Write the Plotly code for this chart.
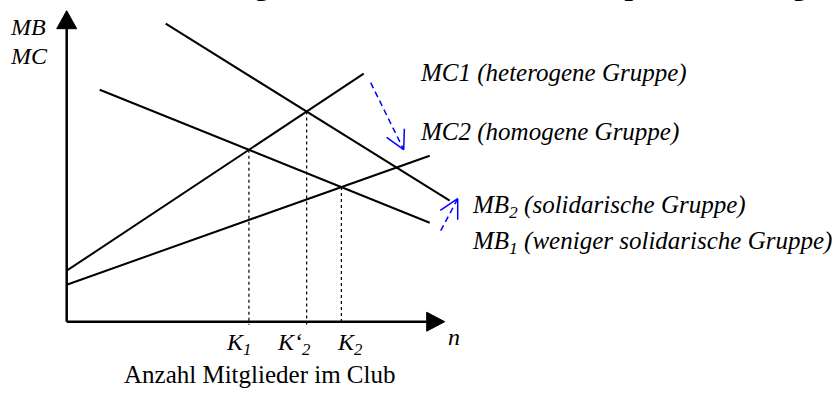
import numpy as np
import plotly.graph_objects as go

# Kurven (Endpunkte, n / Nutzen-Kosten-Einheiten, Ursprung = Achsenkreuz)
mb2_n = [99, 383]
mb2_v = [298, 121]
mb1_n = [33, 363]
mb1_v = [232, 99]
mc1_n = [0, 297]
mc1_v = [51, 248]
mc2_n = [0, 363]
mc2_v = [37, 166]

curve_labels = ["MC1 (heterogene Gruppe)", "MC2 (homogene Gruppe)",
                "MB<sub>2</sub> (solidarische Gruppe)", "MB<sub>1</sub> (weniger solidarische Gruppe)"]
curve_label_n = [351, 351, 403, 403]
curve_label_v = [249, 190, 115, 79]

k_labels = ["K<sub>1</sub>", "K‘<sub>2</sub>", "K<sub>2</sub>"]
k_label_n = [172, 227, 283]

# Verschiebungspfeile (blau gestrichelt)
shift_start_n = [304, 374]
shift_start_v = [239, 91]
shift_end_n = [337, 391]
shift_end_v = [172, 123]

title_text = "4.4 Grad der Homogenität und Solidarität und optimale Clubgröße"
x_title = "Anzahl Mitglieder im Club"

X_MAX, Y_MAX = 378, 311  # Pfeilspitzen der Achsen
SERIF = "Liberation Serif, Times New Roman, serif"


def line_coef(n, v):
    m = (v[1] - v[0]) / (n[1] - n[0])
    return m, v[0] - m * n[0]


def intersect(a, b):
    m1, c1 = line_coef(*a)
    m2, c2 = line_coef(*b)
    x = (c2 - c1) / (m1 - m2)
    return x, m1 * x + c1


def head(x0, y0, x1, y1, size=21, ang=28):
    d = np.array([x0 - x1, y0 - y1], dtype=float)
    d /= np.linalg.norm(d)
    pts = []
    for s in (1, -1):
        a = np.radians(ang * s)
        r = np.array([d[0]*np.cos(a) - d[1]*np.sin(a), d[0]*np.sin(a) + d[1]*np.cos(a)])
        pts.append((x1 + r[0]*size, y1 + r[1]*size))
    return pts


fig = go.Figure()

for n, v in [(mb2_n, mb2_v), (mb1_n, mb1_v), (mc1_n, mc1_v), (mc2_n, mc2_v)]:
    fig.add_trace(go.Scatter(x=n, y=v, mode="lines", line=dict(color="black", width=2),
                             hoverinfo="skip"))

# gepunktete Senkrechte bei den Schnittpunkten
for a, b in [((mb1_n, mb1_v), (mc1_n, mc1_v)),
             ((mb2_n, mb2_v), (mc1_n, mc1_v)),
             ((mb1_n, mb1_v), (mc2_n, mc2_v))]:
    xi, yi = intersect(a, b)
    fig.add_trace(go.Scatter(x=[xi, xi], y=[yi, -3], mode="lines",
                             line=dict(color="black", width=1.2, dash="dot"), hoverinfo="skip"))

for x0, y0, x1, y1 in zip(shift_start_n, shift_start_v, shift_end_n, shift_end_v):
    fig.add_trace(go.Scatter(x=[x0, x1], y=[y0, y1], mode="lines",
                             line=dict(color="#0000ff", width=1.5, dash="6px,4px"), hoverinfo="skip"))
    w1, w2 = head(x0, y0, x1, y1)
    fig.add_trace(go.Scatter(x=[w1[0], x1, w2[0]], y=[w1[1], y1, w2[1]], mode="lines",
                             line=dict(color="#0000ff", width=1.5), hoverinfo="skip"))

# Achsen mit Pfeilspitzen
shapes = [
    dict(type="line", x0=0, y0=0, x1=X_MAX - 18, y1=0, line=dict(color="black", width=2.5)),
    dict(type="line", x0=0, y0=0, x1=0, y1=Y_MAX - 18, line=dict(color="black", width=2.5)),
    dict(type="path", path=f"M {X_MAX-18},-9.5 L {X_MAX},0 L {X_MAX-18},9.5 Z",
         fillcolor="black", line=dict(color="black", width=1)),
    dict(type="path", path=f"M -10,{Y_MAX-18} L 0,{Y_MAX} L 10,{Y_MAX-18} Z",
         fillcolor="black", line=dict(color="black", width=1)),
]

ann = []
for t, x, y in zip(curve_labels, curve_label_n, curve_label_v):
    ann.append(dict(x=x, y=y, text=f"<i>{t}</i>", xanchor="left", yanchor="middle", size=25))
for t, x in zip(k_labels, k_label_n):
    ann.append(dict(x=x, y=-22, text=f"<i>{t}</i>", xanchor="center", yanchor="middle", size=24))
ann.append(dict(x=387, y=-15, text="<i>n</i>", xanchor="center", yanchor="middle", size=24))
ann.append(dict(x=-59, y=295, text="<i>MB</i>", xanchor="left", yanchor="middle", size=24))
ann.append(dict(x=-59, y=266, text="<i>MC</i>", xanchor="left", yanchor="middle", size=24))
ann.append(dict(x=193, y=-53, text=x_title, xanchor="center", yanchor="middle", size=25))
for a in ann:
    a.update(showarrow=False, xref="x", yref="y",
             font=dict(family=SERIF, size=a.pop("size"), color="black"))
ann.append(dict(x=0.004, y=318.5, xref="paper", yref="y", text=f"<b>{title_text}</b>",
                xanchor="left", yanchor="bottom", showarrow=False,
                font=dict(family=SERIF, size=30, color="black")))

fig.update_layout(
    width=834, height=409,
    margin=dict(l=0, r=0, t=0, b=0),
    paper_bgcolor="white", plot_bgcolor="white",
    showlegend=False,
    xaxis=dict(range=[-66.7, 767.3], visible=False, fixedrange=True),
    yaxis=dict(range=[-87.3, 321.7], visible=False, fixedrange=True),
    shapes=shapes, annotations=ann,
)

fig.write_html("out.html", config={"displayModeBar": False},
               post_script="document.body.style.margin='0';")
